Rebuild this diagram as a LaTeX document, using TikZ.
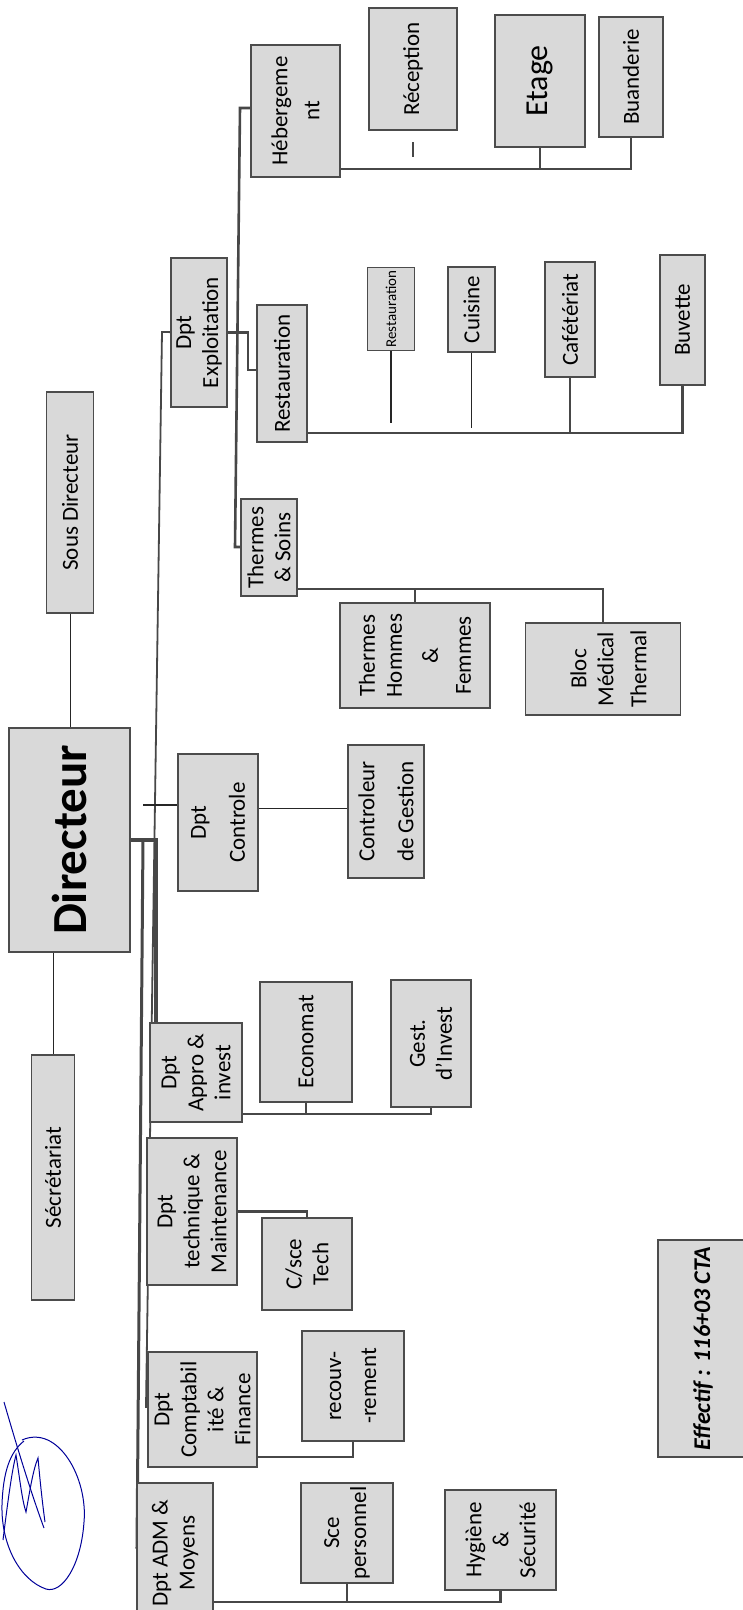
\documentclass[tikz,border=0pt]{standalone}
\usepackage{fontspec}
\setmainfont{Carlito}
\usetikzlibrary{positioning, calc, backgrounds}
\tikzset{
	x=1pt, y=-1pt, % one unit is one pixel of the scan, y runs downwards
	box/.style={draw=black!70, line width=1.6pt, fill=black!15, rotate=90, align=center, inner sep=1pt,
		font=\fontsize{23}{27}\selectfont}, % every box of the chart
	link/.style={draw=black!72, line width=2.6pt}, % thick connectors
	thinlink/.style={draw=black!85, line width=1pt}, % thin connectors
	sig/.style={draw=blue!60!black, line width=1pt}, % the signature
}

\begin{document}
\begin{tikzpicture}
	\useasboundingbox (0,0) rectangle (743,1610);
	% direction
	\node[box, minimum width=221pt, minimum height=47pt] (sousdir) at (70,502.5) {Sous Directeur};
	\node[box, minimum width=224pt, minimum height=121pt, font=\fontsize{49}{55}\selectfont\bfseries] (dir) at (69.5,840) {Directeur};
	\node[box, minimum width=245pt, minimum height=43pt] (secr) at (53,1177.5) {Sécrétariat};
	% departments
	\node[box, minimum width=149pt, minimum height=56pt] (expl) at (199,332.5) {Dpt\\Exploitation};
	\node[box, minimum width=137pt, minimum height=80pt] (ctrl) at (218,822.5) {Dpt\\[12pt]Controle};
	\node[box, minimum width=99pt, minimum height=92pt] (appro) at (196,1072.5) {Dpt\\Appro \&\\invest};
	\node[box, minimum width=147pt, minimum height=90pt] (tech) at (192,1211.5) {Dpt\\technique \&\\Maintenance};
	\node[box, minimum width=115pt, minimum height=109pt] (compta) at (202.5,1409.5) {Dpt\\Comptabil\\ité \&\\Finance};
	\node[box, minimum width=140pt, minimum height=76pt] (adm) at (175,1553) {Dpt ADM \&\\Moyens};
	% exploitation
	\node[box, minimum width=132pt, minimum height=89pt] (heberg) at (295.5,111) {Hébergeme\\[5pt]nt};
	\node[box, minimum width=137pt, minimum height=50pt] (resto) at (282,373.5) {Restauration};
	\node[box, minimum width=97pt, minimum height=56pt] (thermes) at (269,547.5) {Thermes\\\& Soins};
	\node[box, minimum width=122pt, minimum height=88pt] (recep) at (413,69) {Réception};
	\node[box, minimum width=132pt, minimum height=90pt, font=\fontsize{32}{36}\selectfont] (etage) at (540,81) {Etage};
	\node[box, minimum width=120pt, minimum height=64pt] (buand) at (631,77) {Buanderie};
	\node[box, minimum width=83pt, minimum height=47pt, font=\fontsize{15}{17}\selectfont] (restosm) at (391,309) {Restauration};
	\node[box, minimum width=85pt, minimum height=47pt] (cuisine) at (471.5,309.5) {Cuisine};
	\node[box, minimum width=115pt, minimum height=50pt] (cafet) at (570,319.5) {Cafétériat};
	\node[box, minimum width=130pt, minimum height=45pt] (buvette) at (682.5,320) {Buvette};
	\node[box, minimum width=105pt, minimum height=150pt] (thhf) at (415,655.5) {Thermes\\Hommes\\[9pt]\&\\[6pt]Femmes};
	\node[box, minimum width=92pt, minimum height=155pt] (bloc) at (603,669) {~\\Bloc\\Médical\\[6pt]Thermal};
	% other services
	\node[box, minimum width=133pt, minimum height=76pt] (ctrlgest) at (386,811.5) {Controleur\\[12pt]de Gestion};
	\node[box, minimum width=120pt, minimum height=92pt] (econ) at (306,1042) {Economat};
	\node[box, minimum width=127pt, minimum height=80pt] (gest) at (431,1043.5) {Gest.\\d'Invest};
	\node[box, minimum width=92pt, minimum height=90pt] (csce) at (307,1264) {C/sce\\Tech};
	\node[box, minimum width=110pt, minimum height=102pt] (recouv) at (353,1386) {recouv-\\[8pt]-rement};
	\node[box, minimum width=100pt, minimum height=92pt] (scep) at (347,1533) {Sce\\personnel};
	\node[box, minimum width=100pt, minimum height=111pt] (hyg) at (500.5,1540) {Hygiène\\\&\\Sécurité};
	\node[box, minimum width=217pt, minimum height=90pt, font=\fontsize{24}{28}\selectfont\bfseries\itshape] (effectif) at (703,1348.5) {Effectif : 116+03 CTA};

	\begin{scope}[on background layer]
		% direction
		\draw[thinlink] (sousdir) -- (sousdir |- dir);
		\draw[thinlink] (secr) -- (secr |- dir);
		% lines of the main bus
		\coordinate (busa) at (156,840);
		\coordinate (busaa) at (143,840);
		\coordinate (busab) at (137,1547);
		\coordinate (bustop) at (162,332);
		\coordinate (busbot) at (146,1407);
		\draw[link, line width=3.2pt] (dir) -- (busa) -- (busa |- appro);
		\draw[link, line width=3pt] (busaa) -- (busab) -- (adm |- busab);
		\draw[link, line width=1.8pt] (expl) -- (bustop) -- (busbot) -- (compta |- busbot);
		\coordinate (ctrlstub) at (143,805);
		\draw[thinlink, line width=1.5pt] (ctrlstub) -- (ctrl |- ctrlstub);
		\draw[thinlink] (ctrl |- 0,808) -- (ctrlgest |- 0,808);
		% exploitation
		\coordinate (spinetop) at (240,108);
		\coordinate (spinebot) at (235,547);
		\draw[link] (heberg |- spinetop) -- (spinetop) -- (spinebot) -- (thermes |- spinebot);
		\draw[link] (expl) -- (expl -| spinetop);
		\coordinate (restoknee) at (248,370);
		\draw[link] (expl) -| (restoknee) -- (resto |- restoknee);
		%
		\coordinate (hebrow) at (0,169);
		\draw[link] (heberg |- hebrow) -- (buand |- hebrow) -- (buand);
		\draw[link] (etage) -- (etage |- hebrow);
		\draw[link, line width=1.6pt] (recep |- 0,142) -- (recep |- 0,157);
		%
		\coordinate (restrow) at (0,433);
		\draw[link] (resto |- restrow) -- (buvette |- restrow) -- (buvette);
		\draw[link] (cafet) -- (cafet |- restrow);
		\draw[thinlink, line width=1.3pt] (restosm) -- (restosm |- 0,423);
		\draw[thinlink, line width=1.3pt] (cuisine) -- (cuisine |- 0,428);
		%
		\coordinate (throw) at (0,589);
		\draw[link] (thermes |- throw) -- (bloc |- throw) -- (bloc);
		\draw[link] (thhf) -- (thhf |- throw);
		% other departments
		\coordinate (approw) at (0,1114);
		\draw[link] (appro |- approw) -- (gest |- approw) -- (gest);
		\draw[link] (econ) -- (econ |- approw);
		\draw[link] (tech) -| (csce);
		\draw[link] (compta |- 0,1457) -| (recouv);
		\coordinate (admrow) at (0,1602);
		\draw[link] (adm |- admrow) -- (hyg |- admrow) -- (hyg);
		\draw[link] (scep) -- (scep |- admrow);
	\end{scope}

	% signature
	\draw[sig] (22,1440) .. controls (58,1424) and (88,1478) .. (84,1522) .. controls (81,1566) and (62,1594) .. (46,1589) .. controls (20,1580) and (1,1545) .. (2,1505) .. controls (3,1472) and (10,1452) .. (24,1441);
	\draw[sig] (3,1540) .. controls (8,1500) and (12,1470) .. (16,1455) .. controls (20,1480) and (22,1500) .. (26,1512) .. controls (30,1490) and (33,1470) .. (38,1458) .. controls (40,1480) and (42,1500) .. (45,1522);
	\draw[sig] (4,1402) .. controls (15,1440) and (30,1490) .. (44,1528);
\end{tikzpicture}
\end{document}
